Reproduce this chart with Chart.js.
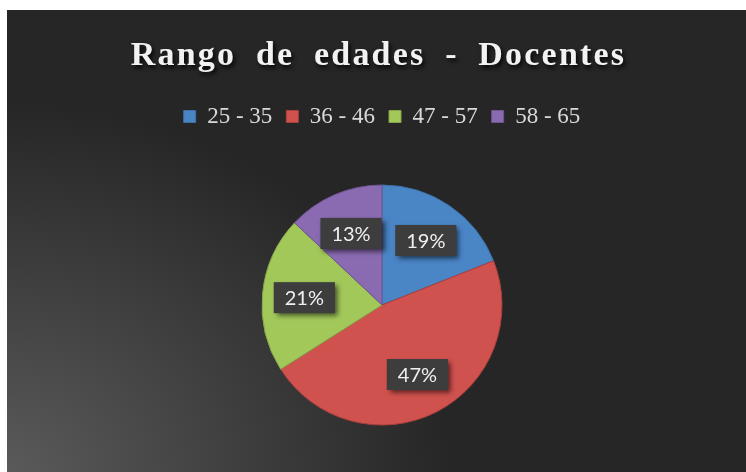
<!DOCTYPE html>
<html>
<head>
<meta charset="utf-8">
<script src="https://cdn.jsdelivr.net/npm/chart.js@4.4.0/dist/chart.umd.min.js"></script>
<style>
  html, body { margin: 0; padding: 0; background: #ffffff; }
  #wrap {
    position: absolute; left: 7px; top: 10px; width: 739px; height: 462px;
    background: radial-gradient(ellipse 60% 80% at 0% 100%, #5a5a5a 0%, #262626 100%);
  }
</style>
</head>
<body>
<div id="wrap"><canvas id="myChart"></canvas></div>
<script>
var titleText = "Rango de edades - Docentes";
var labels = ["25 - 35", "36 - 46", "47 - 57", "58 - 65"];
var values = [19, 47, 21, 13];
var colors = ["#4a85c6", "#d0524e", "#a2c85a", "#8a6bb2"];
var borders = ["#3d6ea6", "#aa3f3c", "#85a548", "#6f5592"];

// title with shadow and wide spacing
var titlePlugin = {
    id: 'titleShadow',
    afterDraw: function(chart) {
        var ctx = chart.ctx;
        ctx.save();
        ctx.font = "bold 34px 'Liberation Serif', 'Times New Roman', serif";
        ctx.textAlign = 'center';
        ctx.textBaseline = 'alphabetic';
        ctx.letterSpacing = '2.2px';
        ctx.wordSpacing = '9px';
        ctx.shadowColor = 'rgba(0,0,0,0.85)';
        ctx.shadowOffsetX = 2;
        ctx.shadowOffsetY = 3;
        ctx.shadowBlur = 4;
        ctx.fillStyle = '#f2f2f2';
        ctx.fillText(titleText, chart.width / 2 + 2, 55);
        ctx.restore();
    }
};

// percent labels in dark boxes
var boxLabels = {
    id: 'boxLabels',
    afterDatasetsDraw: function(chart) {
        var ctx = chart.ctx;
        var meta = chart.getDatasetMeta(0);
        var total = values.reduce(function(a, b) { return a + b; }, 0);
        ctx.save();
        ctx.font = "20px Lato, 'Open Sans', sans-serif";
        ctx.textAlign = 'center';
        ctx.textBaseline = 'middle';
        meta.data.forEach(function(arc, i) {
            var p = arc.getProps(['x', 'y', 'startAngle', 'endAngle', 'outerRadius']);
            var mid = (p.startAngle + p.endAngle) / 2;
            var r = p.outerRadius * 0.65;
            var x = p.x + Math.cos(mid) * r;
            var y = p.y + Math.sin(mid) * r;
            var txt = Math.round(values[i] / total * 100) + '%';
            var w = ctx.measureText(txt).width + 22;
            var h = 31;
            ctx.shadowColor = 'rgba(0,0,0,0.6)';
            ctx.shadowOffsetX = 3;
            ctx.shadowOffsetY = 3;
            ctx.shadowBlur = 5;
            ctx.fillStyle = '#3d3d3d';
            ctx.fillRect(x - w / 2, y - h / 2, w, h);
            ctx.shadowColor = 'transparent';
            ctx.fillStyle = '#f0f0f0';
            ctx.fillText(txt, x, y + 1);
        });
        ctx.restore();
    }
};

var ctx = document.getElementById('myChart').getContext('2d');
var chart = new Chart(ctx, {
    type: 'pie',
    data: {
        labels: labels,
        datasets: [{
            data: values,
            backgroundColor: colors,
            borderColor: borders,
            borderWidth: 1,
            radius: 120
        }]
    },
    options: {
        responsive: true,
        maintainAspectRatio: false,
        animation: false,
        layout: { padding: { top: 81, bottom: 0, left: 11, right: 0 } },
        plugins: {
            title: { display: false },
            tooltip: { enabled: false },
            legend: {
                position: 'top',
                labels: {
                    color: '#d9d9d9',
                    font: { family: "'Liberation Serif', 'Times New Roman', serif", size: 23 },
                    boxWidth: 12,
                    boxHeight: 12,
                    padding: 14
                }
            }
        }
    },
    plugins: [titlePlugin, boxLabels]
});
</script>
</body>
</html>
